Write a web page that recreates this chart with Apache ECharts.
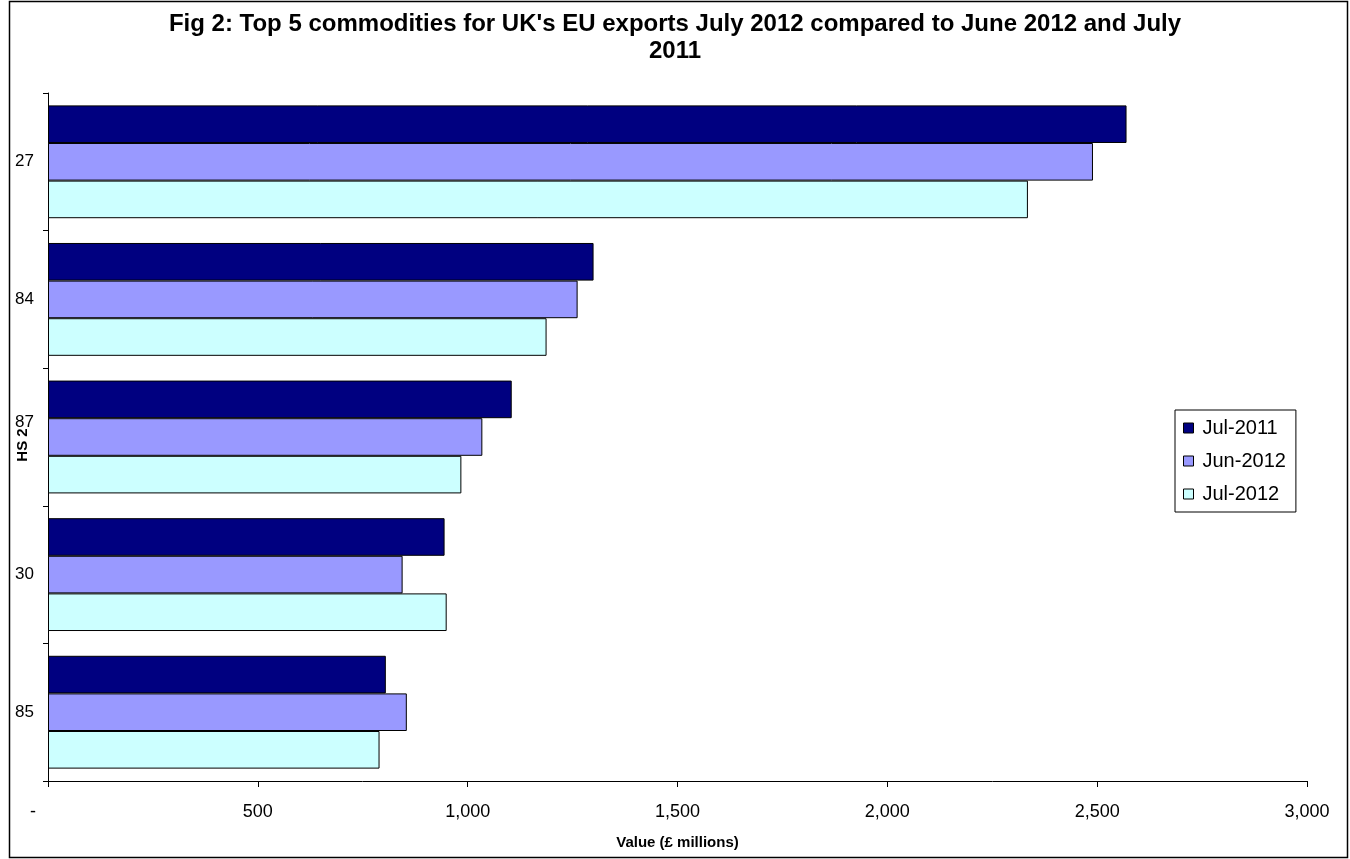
<!DOCTYPE html>
<html>
<head>
<meta charset="utf-8">
<script src="https://cdn.jsdelivr.net/npm/echarts@6/dist/echarts.min.js"></script>
<style>
html,body{margin:0;padding:0;background:#fff;}
#chart{width:1350px;height:859px;}
</style>
</head>
<body>
<div id="chart"></div>
<script>
var categories = ['27', '84', '87', '30', '85'];
var seriesNames = ['Jul-2011', 'Jun-2012', 'Jul-2012'];
var jul2011 = [2570, 1300, 1105, 945, 805];
var jun2012 = [2490, 1262, 1035, 845, 855];
var jul2012 = [2335, 1188, 985, 950, 790];

var FONT = '"Liberation Sans", Arial, sans-serif';
var colors = ['#000080', '#9999FF', '#CCFFFF'];
var values = [jul2011, jun2012, jul2012];

var chart = echarts.init(document.getElementById('chart'), null, {renderer: 'canvas'});
var option = {
  backgroundColor: '#ffffff',
  animation: false,
  textStyle: {fontFamily: FONT, color: '#000'},
  title: {
    text: "Fig 2: Top 5 commodities for UK's EU exports July 2012 compared to June 2012 and July\n2011",
    left: 670,
    top: 6,
    textAlign: 'center',
    textStyle: {fontFamily: FONT, fontSize: 24, fontWeight: 'bold', color: '#000', lineHeight: 27}
  },
  graphic: [{
    type: 'rect',
    shape: {x: 9.5, y: 1.5, width: 1338, height: 856},
    style: {fill: 'none', stroke: '#000', lineWidth: 1.5},
    silent: true
  }],
  legend: {
    orient: 'vertical',
    left: 1175,
    top: 410,
    data: seriesNames,
    icon: 'rect',
    itemWidth: 10,
    itemHeight: 10,
    itemGap: 13,
    padding: [8, 10, 8, 8],
    borderColor: '#000',
    borderWidth: 1,
    textStyle: {fontFamily: FONT, fontSize: 20, color: '#000', padding: [0, 0, 0, 4]},
    itemStyle: {borderColor: '#000', borderWidth: 1}
  },
  grid: {left: 48, right: 43, top: 93, bottom: 78, containLabel: false, outerBoundsMode: 'none'},
  xAxis: {
    type: 'value',
    min: 0,
    max: 3000,
    interval: 500,
    name: 'Value (£ millions)',
    nameLocation: 'middle',
    nameGap: 54,
    nameMoveOverlap: false,
    nameTextStyle: {fontFamily: FONT, fontSize: 15, fontWeight: 'bold', color: '#000'},
    axisLine: {show: true, lineStyle: {color: '#000', width: 1}},
    axisTick: {show: true, length: 6, lineStyle: {color: '#000'}},
    splitLine: {show: false},
    axisLabel: {
      fontFamily: FONT, fontSize: 18, color: '#000', margin: 22,
      formatter: function (v) {
        if (v === 0) return '-      ';
        return v.toLocaleString('en-US');
      }
    }
  },
  yAxis: {
    type: 'category',
    data: categories,
    inverse: true,
    name: 'HS 2',
    nameLocation: 'middle',
    nameGap: 18,
    nameMoveOverlap: false,
    nameRotate: 90,
    nameTextStyle: {fontFamily: FONT, fontSize: 15, fontWeight: 'bold', color: '#000', padding: [0, 16, 0, 0]},
    axisLine: {show: true, lineStyle: {color: '#000', width: 1}},
    axisTick: {show: true, length: 5, lineStyle: {color: '#000'}},
    axisLabel: {
      fontFamily: FONT, fontSize: 17, color: '#000', margin: 14,
      formatter: function (v) {
        return v === '87' ? '{up|' + v + '}' : v;
      },
      rich: {up: {fontFamily: FONT, fontSize: 17, color: '#000', padding: [0, 0, 30, 0]}}
    }
  },
  series: seriesNames.map(function (name, i) {
    return {
      name: name,
      type: 'bar',
      data: values[i],
      barGap: '0%',
      barCategoryGap: '18%',
      itemStyle: {color: colors[i], borderColor: '#000', borderWidth: 1}
    };
  })
};
chart.setOption(option);
</script>
</body>
</html>
